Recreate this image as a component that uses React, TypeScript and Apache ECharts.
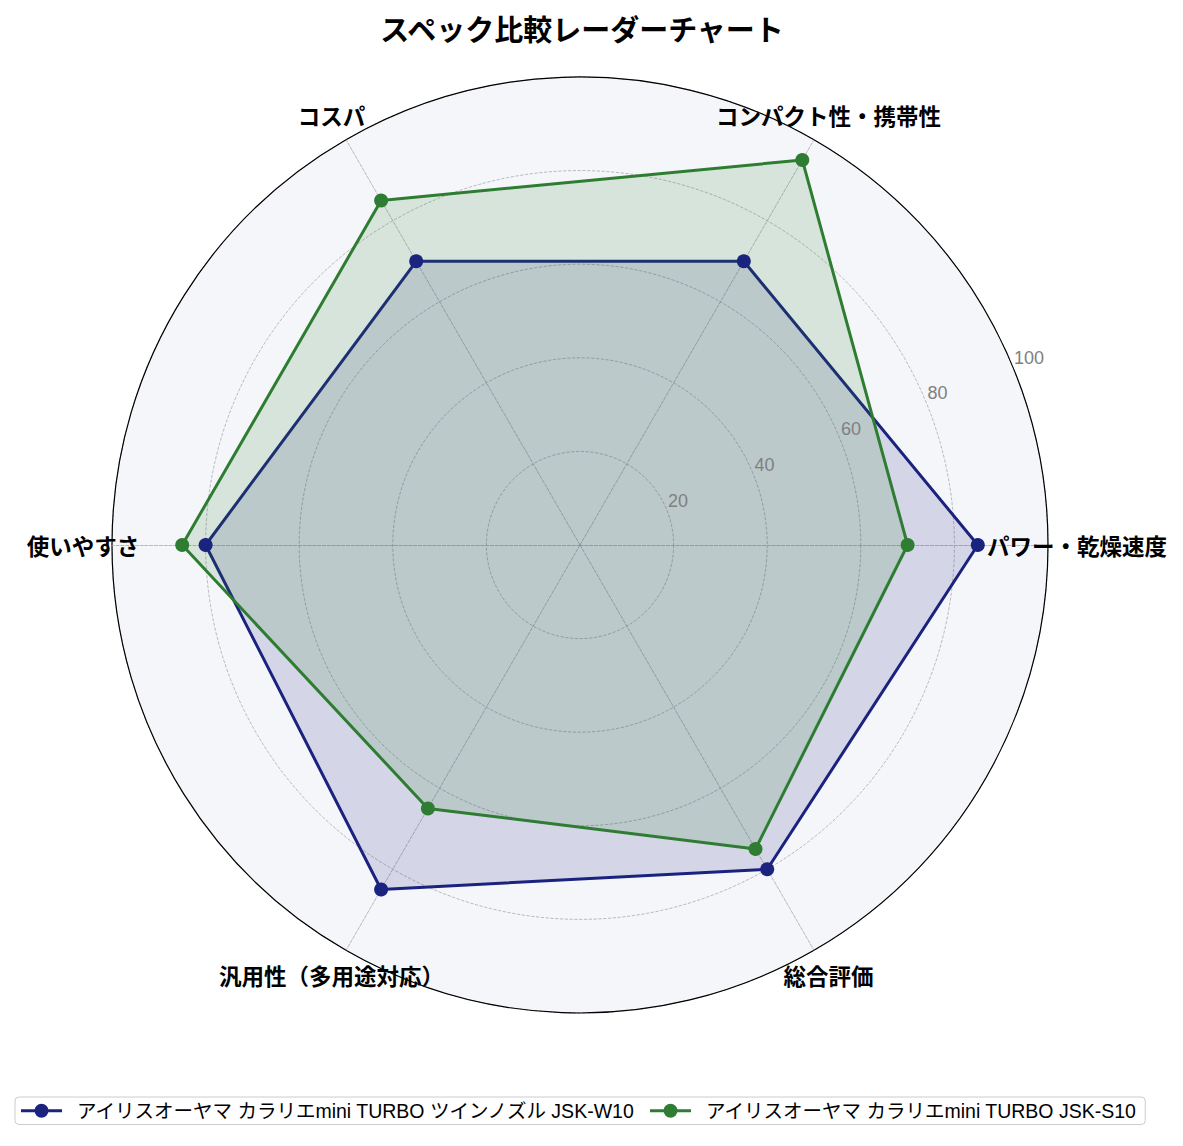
import React, { useEffect, useRef } from 'react';
import * as echarts from 'echarts';

const indicators = ['パワー・乾燥速度', 'コンパクト性・携帯性', 'コスパ', '使いやすさ', '汎用性（多用途対応）', '総合評価'];
const productNames = [
  'アイリスオーヤマ カラリエmini TURBO ツインノズル JSK-W10',
  'アイリスオーヤマ カラリエmini TURBO JSK-S10',
];
const w10Scores = [85, 70, 70, 80, 85, 80];
const s10Scores = [70, 95, 85, 85, 65, 75];
const radialTicks = [0, 20, 40, 60, 80, 100];

const FONT = '"Noto Sans CJK JP", "Noto Sans", sans-serif';
const MIXED_FONT = '"Liberation Sans", "Noto Sans CJK JP", sans-serif';
// line with a round marker, like the matplotlib legend handle
const legendIcon = 'path://M0,5.5H41V8.5H0Z M27.5,7A7,7 0 1 1 13.5,7A7,7 0 1 1 27.5,7Z';

const App: React.FC = () => {
  const chartRef = useRef<HTMLDivElement>(null);

  useEffect(() => {
    document.body.style.margin = '0';
    if (!chartRef.current) return;
    const chart = echarts.init(chartRef.current, undefined, { renderer: 'svg' });

    const colors = ['#1a237e', '#2e7d32'];
    const scoreSets = [w10Scores, s10Scores];
    const rMax = radialTicks[radialTicks.length - 1];

    const option: echarts.EChartsOption = {
      animation: false,
      backgroundColor: '#fff',
      textStyle: { fontFamily: FONT },
      title: {
        text: 'スペック比較レーダーチャート',
        left: 577,
        top: 8,
        textAlign: 'center',
        textStyle: { fontSize: 29, fontWeight: 'bold', color: '#000', fontFamily: FONT },
      },
      legend: {
        data: productNames.map((name) => ({ name, icon: legendIcon })),
        left: 15,
        top: 1097,
        itemWidth: 41,
        itemHeight: 14,
        itemGap: 14,
        padding: [4, 8, 4, 6],
        borderColor: '#cccccc',
        borderWidth: 1,
        borderRadius: 4,
        textStyle: { fontSize: 19.5, color: '#000', fontFamily: MIXED_FONT, padding: [0, 0, 0, 10] },
      },
      radar: {
        center: [580, 545],
        radius: 468,
        startAngle: 0,
        shape: 'circle',
        splitNumber: radialTicks.length - 1,
        nameGap: 29,
        indicator: indicators.map((name) => ({ name, min: 0, max: rMax })),
        axisName: {
          color: '#000',
          fontSize: 22.5,
          fontWeight: 'bold',
          fontFamily: FONT,
          align: 'center',
          verticalAlign: 'middle',
        } as any,
        axisLine: { lineStyle: { color: '#a8a8a8', type: 'dashed', width: 0.8 } },
        splitLine: { lineStyle: { color: '#a8a8a8', type: 'dashed', width: 0.8 } },
        splitArea: { areaStyle: { color: ['#f5f6fa'] } },
      },
      polar: { center: [580, 545], radius: 468 },
      angleAxis: {
        type: 'value',
        min: 0,
        max: 360,
        startAngle: 22.5,
        axisLine: { show: true, lineStyle: { color: '#000', width: 1.2 } },
        axisTick: { show: false },
        axisLabel: { show: false },
        splitLine: { show: false },
      },
      radiusAxis: {
        type: 'value',
        min: 0,
        max: rMax,
        interval: 20,
        axisLine: { show: false },
        axisTick: { show: false },
        splitLine: { show: false },
        axisLabel: {
          color: '#808080',
          fontSize: 18,
          showMinLabel: false,
          margin: 9,
          align: 'left',
          padding: [0, 0, 0, 5],
          fontFamily: MIXED_FONT,
        },
        z: 10,
      },
      series: productNames.map((name, i) => ({
        name,
        type: 'radar',
        symbol: 'circle',
        symbolSize: 14,
        itemStyle: { color: colors[i] },
        lineStyle: { color: colors[i], width: 3 },
        areaStyle: { color: colors[i], opacity: 0.15 },
        data: [{ name, value: scoreSets[i] }],
      })),
    };

    chart.setOption(option);
    return () => chart.dispose();
  }, []);

  return <div ref={chartRef} style={{ width: 1183, height: 1146 }} />;
};

export default App;
